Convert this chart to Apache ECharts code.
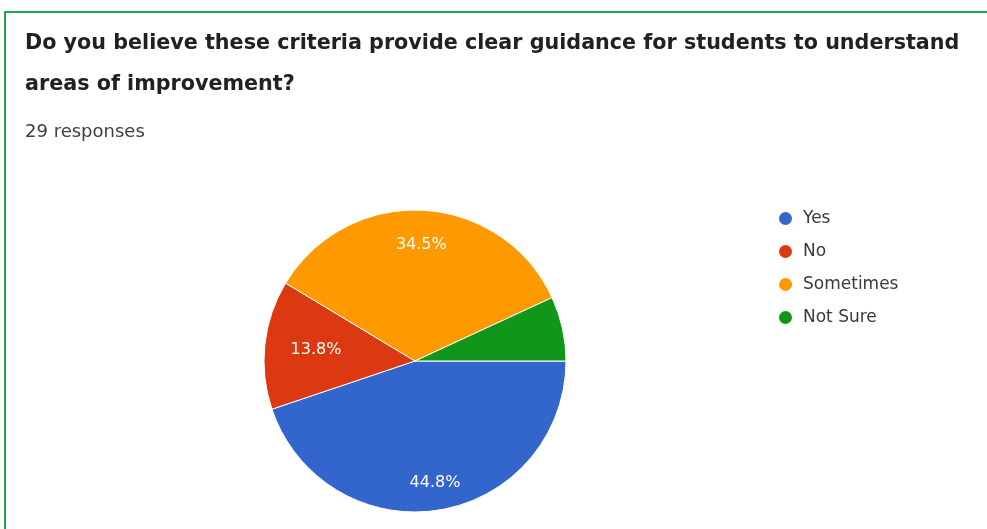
<!DOCTYPE html>
<html><head><meta charset="utf-8">
<script src="https://cdn.jsdelivr.net/npm/echarts@6/dist/echarts.min.js"></script>
<style>html,body{margin:0;padding:0;background:#fff}#c{width:987px;height:529px}</style>
</head><body><div id="c"></div>
<script>
const titleText = 'Do you believe these criteria provide clear guidance for students to understand\nareas of improvement?';
const subText = '29 responses';
const categories = ['Yes', 'No', 'Sometimes', 'Not Sure'];
const counts = [13, 4, 10, 2];
const colors = ['#3366cc', '#dc3912', '#ff9900', '#109618'];

const total = counts.reduce((a, b) => a + b, 0);
const pct = v => (v / total * 100).toFixed(1) + '%';
const center = [415, 361];
const R = 151;
// relative radius where each slice's label sits
const labelRadius = { Yes: 0.8, No: 0.64, Sometimes: 0.75 };

const baseData = categories.map((c, i) => ({ name: c, value: counts[i], itemStyle: { color: colors[i] } }));

const labelStyle = { position: 'inside', formatter: p => pct(p.value), color: '#fff', fontFamily: 'DejaVu Sans', fontSize: 16 };
const overlay = (cat) => {
  const inner = 2 * labelRadius[cat] - 1;
  return {
    type: 'pie', center: center, radius: [R * inner, R],
    startAngle: 0, clockwise: true, silent: true,
    itemStyle: { color: 'rgba(0,0,0,0)', borderWidth: 0 },
    label: labelStyle, labelLine: { show: false },
    emphasis: { disabled: true }, legendHoverLink: false,
    data: categories.map((c, i) => ({
      name: c, value: counts[i],
      label: { show: c === cat && counts[i] / total > 0.1 }
    }))
  };
};

const chart = echarts.init(document.getElementById('c'), null, { renderer: 'canvas' });
chart.setOption({
  animation: false,
  graphic: [{
    type: 'rect', z: 100, silent: true,
    shape: { x: 5, y: 12, width: 1000, height: 600 },
    style: { fill: 'none', stroke: '#19a94f', lineWidth: 2 }
  }],
  title: [{
    text: titleText, left: 20, top: 18, padding: [5, 5],
    textStyle: { fontFamily: 'DejaVu Sans', fontWeight: 'bold', fontSize: 20.7, color: '#202124', lineHeight: 41 }
  }, {
    text: subText, left: 20, top: 118, padding: [5, 5],
    textStyle: { fontFamily: 'DejaVu Sans', fontWeight: 'normal', fontSize: 18, color: '#3c4043' }
  }],
  legend: {
    orient: 'vertical', left: 772, top: 205, padding: [5, 5],
    icon: 'circle', itemWidth: 25, itemHeight: 15, itemGap: 16,
    data: categories,
    textStyle: { fontFamily: 'DejaVu Sans', fontSize: 17, color: '#3a3a3a' }
  },
  series: [{
    type: 'pie', center: center, radius: [0, R],
    startAngle: 0, clockwise: true,
    itemStyle: { borderColor: '#fff', borderWidth: 1 },
    label: { show: false }, labelLine: { show: false },
    emphasis: { disabled: true },
    data: baseData
  }].concat(Object.keys(labelRadius).map(overlay))
});
</script></body></html>
